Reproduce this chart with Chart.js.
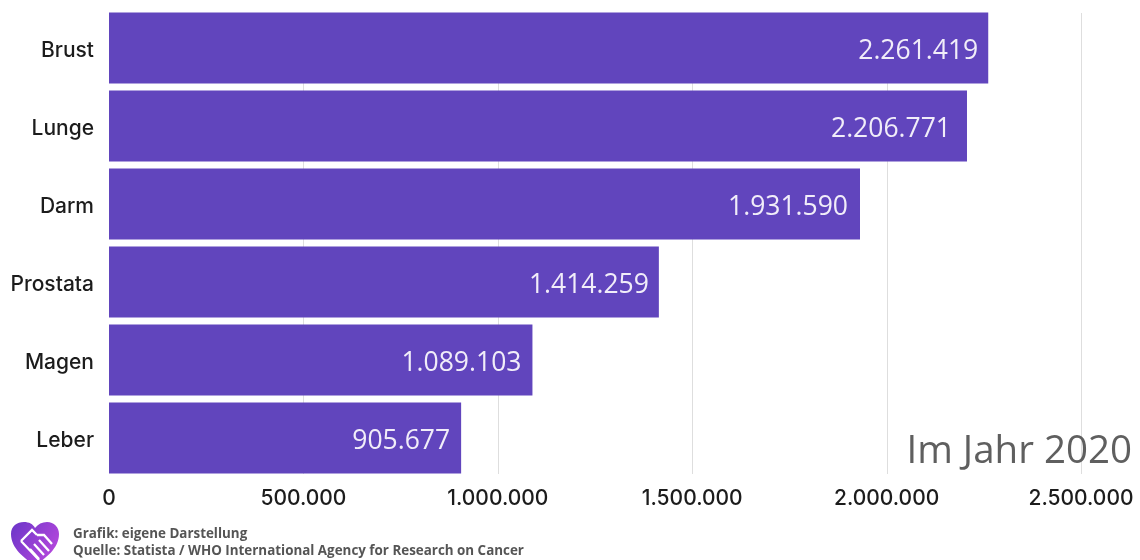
<!DOCTYPE html>
<html lang="de">
<head>
<meta charset="utf-8">
<title>Krebserkrankungen 2020</title>
<script src="https://cdn.jsdelivr.net/npm/chart.js@4"></script>
<style>
  html, body { margin: 0; padding: 0; background: #fff; }
  #wrap { position: relative; width: 1140px; height: 560px; overflow: hidden; }
  #source { position: absolute; left: 73px; top: 525px; font: 700 13.4px/17px "Open Sans", sans-serif; color: #555; white-space: nowrap; }
  #logo { position: absolute; left: 10px; top: 521px; }
</style>
</head>
<body>
<div id="wrap">
  <canvas id="cancerChart" width="1140" height="560"></canvas>
  <svg id="logo" width="50" height="46" viewBox="0 0 50 46">
    <defs>
      <linearGradient id="heartFill" x1="0" y1="0" x2="1" y2="0.6">
        <stop offset="0" stop-color="#6a35c8"/>
        <stop offset="1" stop-color="#b548dc"/>
      </linearGradient>
    </defs>
    <path d="M25 45 C15 37 1 28 1 13 C1 5 7 1 14 1 C19 1 23 3 25 7 C28 3 32 1 37 1 C44 1 49 6 49 13 C49 28 35 37 25 45 Z" fill="url(#heartFill)"/>
    <path d="M11 20 L22 9 L27 14 M11 20 L29 39 M27 14 L34 14 L42 23 M24 23 L34 34 M29 19 L39 30 M20 28 L29 38" stroke="#fff" stroke-width="2.3" fill="none"/>
  </svg>
  <div id="source">Grafik: eigene Darstellung<br>Quelle: Statista / WHO International Agency for Research on Cancer</div>
</div>
<script>
const categories = ['Brust', 'Lunge', 'Darm', 'Prostata', 'Magen', 'Leber'];
const cases = [2261419, 2206771, 1931590, 1414259, 1089103, 905677];
const xTicks = [0, 500000, 1000000, 1500000, 2000000, 2500000];
const xTickLabels = ['0', '500.000', '1.000.000', '1.500.000', '2.000.000', '2.500.000'];
const yearNote = 'Im Jahr 2020';

// how far each value label sits in from the end of its bar
const labelInsets = [10, 16, 12, 10, 11, 11];

const fmt = (n) => String(n).replace(/\B(?=(\d{3})+$)/g, '.');

// grid lines stop a little short of the outer bands, so they are drawn here
const gridLines = {
  id: 'gridLines',
  beforeDatasetsDraw(chart) {
    const { ctx, scales: { x } } = chart;
    ctx.save();
    ctx.strokeStyle = '#dedede';
    ctx.lineWidth = 1;
    xTicks.slice(1).forEach(v => {
      const px = Math.round(x.getPixelForValue(v)) + 0.5;
      ctx.beginPath();
      ctx.moveTo(px, 13);
      ctx.lineTo(px, 474);
      ctx.stroke();
    });
    ctx.restore();
  }
};

const valueLabels = {
  id: 'valueLabels',
  afterDatasetsDraw(chart) {
    const { ctx } = chart;
    ctx.save();
    ctx.font = '26.5px "Open Sans"';
    ctx.fillStyle = '#f1edf9';
    ctx.textAlign = 'right';
    ctx.textBaseline = 'middle';
    chart.getDatasetMeta(0).data.forEach((bar, i) => {
      ctx.fillText(fmt(cases[i]), bar.x - labelInsets[i], bar.y + 3);
    });
    ctx.font = '38.5px "Open Sans"';
    ctx.fillStyle = '#5f5f5f';
    ctx.fillText(yearNote, 1132, 452);
    ctx.restore();
  }
};

new Chart(document.getElementById('cancerChart'), {
  type: 'bar',
  data: {
    labels: categories,
    datasets: [{
      data: cases,
      backgroundColor: '#6145bd',
      categoryPercentage: 0.912,
      barPercentage: 1
    }]
  },
  options: {
    indexAxis: 'y',
    responsive: false,
    animation: false,
    layout: { padding: { top: 9, left: 0, right: 59, bottom: 0 } },
    plugins: { legend: { display: false }, tooltip: { enabled: false } },
    scales: {
      x: {
        min: 0,
        max: 2500000,
        afterBuildTicks: (axis) => { axis.ticks = xTicks.map(value => ({ value })); },
        afterFit: (axis) => {
          axis.height = 83;
          axis.paddingLeft = 0;
          axis.paddingRight = 0;
        },
        grid: { display: false },
        border: { display: false },
        ticks: {
          autoSkip: false,
          maxRotation: 0,
          padding: 1,
          color: '#1c1c1c',
          font: { family: 'Inter', size: 21, weight: 500 },
          callback: (value, i) => xTickLabels[i]
        }
      },
      y: {
        afterFit: (axis) => {
          axis.width = 109;
          axis.paddingTop = 0;
          axis.paddingBottom = 0;
        },
        grid: { display: false },
        border: { display: false },
        ticks: {
          padding: 7,
          labelOffset: 3,
          color: '#1c1c1c',
          font: { family: 'Inter', size: 21, weight: 500 }
        }
      }
    }
  },
  plugins: [gridLines, valueLabels]
});
</script>
</body>
</html>
